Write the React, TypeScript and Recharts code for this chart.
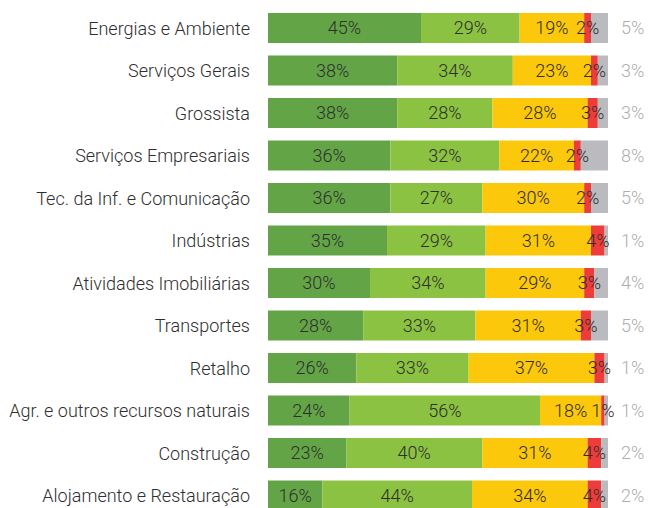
import { Bar, BarChart, LabelList, XAxis, YAxis } from 'recharts'

const categories = [
  'Energias e Ambiente',
  'Serviços Gerais',
  'Grossista',
  'Serviços Empresariais',
  'Tec. da Inf. e Comunicação',
  'Indústrias',
  'Atividades Imobiliárias',
  'Transportes',
  'Retalho',
  'Agr. e outros recursos naturais',
  'Construção',
  'Alojamento e Restauração',
]

const darkGreen = [45, 38, 38, 36, 36, 35, 30, 28, 26, 24, 23, 16]
const lightGreen = [29, 34, 28, 32, 27, 29, 34, 33, 33, 56, 40, 44]
const yellow = [19, 23, 28, 22, 30, 31, 29, 31, 37, 18, 31, 34]
const red = [2, 2, 3, 2, 2, 4, 3, 3, 3, 1, 4, 4]
const grey = [5, 3, 3, 8, 5, 1, 4, 5, 1, 1, 2, 2]

const data = categories.map((name, i) => ({
  name,
  darkGreen: darkGreen[i],
  lightGreen: lightGreen[i],
  yellow: yellow[i],
  red: red[i],
  grey: grey[i],
}))

const FONT = 'Roboto, sans-serif'
const INNER_LABEL = { fill: '#2e2e2e', fontSize: 18, fontFamily: FONT, fontWeight: 300 }

const pct = (v: any) => `${v}%`

function OutsideLabel(props: any) {
  const { x, y, width, height, value } = props
  return (
    <text
      x={Number(x) + Number(width) + 13}
      y={Number(y) + Number(height) / 2}
      dy="0.35em"
      textAnchor="start"
      fill="#adadad"
      fontSize={18}
      fontFamily={FONT}
      fontWeight={300}
    >
      {value}%
    </text>
  )
}

export default function App() {
  return (
    <div style={{ position: 'absolute', left: 0, top: 0, width: 648, height: 508, overflow: 'hidden', background: '#fff' }}>
      <BarChart
        width={648}
        height={518}
        data={data}
        layout="vertical"
        margin={{ top: 7, right: 40, bottom: 1, left: 0 }}
        barSize={30}
      >
        <XAxis type="number" domain={[0, 100]} hide />
        <YAxis
          type="category"
          dataKey="name"
          width={268}
          axisLine={false}
          tickLine={false}
          tickSize={0}
          tickMargin={18}
          interval={0}
          tick={{ fill: '#2e2e2e', fontSize: 18, fontFamily: FONT, fontWeight: 300 }}
        />
        <Bar dataKey="darkGreen" stackId="a" fill="#63a546" isAnimationActive={false}>
          <LabelList dataKey="darkGreen" position="center" formatter={pct} style={INNER_LABEL} />
        </Bar>
        <Bar dataKey="lightGreen" stackId="a" fill="#8bc241" isAnimationActive={false}>
          <LabelList dataKey="lightGreen" position="center" formatter={pct} style={INNER_LABEL} />
        </Bar>
        <Bar dataKey="yellow" stackId="a" fill="#fcc80b" isAnimationActive={false}>
          <LabelList dataKey="yellow" position="center" formatter={pct} style={INNER_LABEL} />
        </Bar>
        <Bar dataKey="red" stackId="a" fill="#ee3c3a" isAnimationActive={false}>
          <LabelList dataKey="red" position="center" formatter={pct} style={INNER_LABEL} />
        </Bar>
        <Bar dataKey="grey" stackId="a" fill="#bbbbbf" isAnimationActive={false}>
          <LabelList dataKey="grey" content={OutsideLabel} />
        </Bar>
      </BarChart>
    </div>
  )
}
